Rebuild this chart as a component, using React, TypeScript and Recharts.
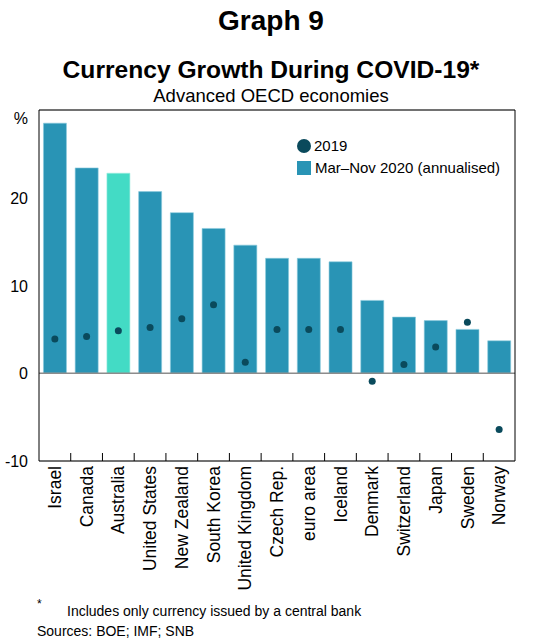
import { ComposedChart, Bar, Scatter, XAxis, YAxis, CartesianGrid, ReferenceLine, Cell } from 'recharts';

const countries = [
  'Israel', 'Canada', 'Australia', 'United States', 'New Zealand', 'South Korea', 'United Kingdom',
  'Czech Rep.', 'euro area', 'Iceland', 'Denmark', 'Switzerland', 'Japan', 'Sweden', 'Norway',
];
const growth2020 = [28.5, 23.4, 22.8, 20.7, 18.3, 16.5, 14.6, 13.1, 13.1, 12.7, 8.3, 6.4, 6.0, 5.0, 3.7];
const growth2019 = [3.9, 4.2, 4.85, 5.2, 6.2, 7.8, 1.25, 5.0, 5.0, 5.0, -0.9, 1.0, 3.0, 5.8, -6.4];
const yTicks = [-10, 0, 10, 20, 30];

const data = countries.map((c, i) => ({ name: c, y2020: growth2020[i], y2019: growth2019[i] }));

const FONT = '"Liberation Sans", Arial, sans-serif';
const W = 542;
const H = 638;
const TOP = 110;
const LEFT_W = 39;
const RIGHT_W = 27;
const XAXIS_H = 177;
const AXIS_Y = H - XAXIS_H;
const BAND = (W - LEFT_W - RIGHT_W) / countries.length;

const BAR = '#2994b5';
const HIGHLIGHT = '#43dbc5';
const DOT = '#0a4a5c';

if (typeof document !== 'undefined') document.body.style.margin = '0';

function YTick({ x, y, payload, side }: any) {
  const label = payload.value === 30 ? '%' : String(payload.value);
  const dy = payload.value === 30 ? 14 : 6;
  return (
    <text
      x={side === 'left' ? x - 3 : x + 3}
      y={y + dy}
      textAnchor={side === 'left' ? 'end' : 'start'}
      fontSize={16}
      fontFamily={FONT}
      fill="#000"
    >
      {label}
    </text>
  );
}

function XTick({ x, payload, index }: any) {
  return (
    <g>
      {index < countries.length - 1 && (
        <line x1={x + BAND / 2} x2={x + BAND / 2} y1={AXIS_Y} y2={AXIS_Y - 8} stroke="#000" strokeWidth={1} />
      )}
      <g transform={`translate(${x},${AXIS_Y})`}>
        <text transform="rotate(-90)" x={-5} y={0} dy="0.35em" textAnchor="end" fontSize={17.5} fontFamily={FONT} fill="#000">
          {payload.value}
        </text>
      </g>
    </g>
  );
}

export default function App() {
  return (
    <div style={{ position: 'relative', width: W, height: H, fontFamily: FONT, background: '#fff' }}>
      <div style={{ position: 'absolute', top: 5, width: W, textAlign: 'center', fontSize: 28, fontWeight: 'bold' }}>
        Graph 9
      </div>
      <div style={{ position: 'absolute', top: 56, width: W, textAlign: 'center', fontSize: 24.6, fontWeight: 'bold' }}>
        Currency Growth During COVID-19*
      </div>
      <div style={{ position: 'absolute', top: 85, width: W, textAlign: 'center', fontSize: 18.5 }}>
        Advanced OECD economies
      </div>

      <ComposedChart width={W} height={H} data={data} margin={{ top: TOP, right: 0, left: 0, bottom: 0 }} barCategoryGap="14%">
        <CartesianGrid vertical={false} stroke="#c8c8c8" />
        <XAxis
          dataKey="name"
          height={XAXIS_H}
          interval={0}
          tickLine={false}
          tickSize={0}
          stroke="#000"
          tick={<XTick />}
        />
        <YAxis
          yAxisId="left"
          domain={[-10, 30]}
          ticks={yTicks}
          width={LEFT_W}
          tickLine={false}
          stroke="#000"
          tick={<YTick side="left" />}
        />
        <YAxis
          yAxisId="right"
          orientation="right"
          domain={[-10, 30]}
          ticks={yTicks}
          width={RIGHT_W}
          tickLine={false}
          stroke="#000"
          tick={<YTick side="right" />}
        />
        <ReferenceLine yAxisId="left" y={0} stroke="#8c8c8c" strokeWidth={1.5} />
        <ReferenceLine yAxisId="left" y={30} stroke="#000" strokeWidth={1} />
        <Bar yAxisId="left" dataKey="y2020" isAnimationActive={false} stroke="#8ccbdd" strokeWidth={0.6}>
          {data.map((d, i) => (
            <Cell key={i} fill={d.name === 'Australia' ? HIGHLIGHT : BAR} stroke={d.name === 'Australia' ? '#9fede0' : '#8ccbdd'} />
          ))}
        </Bar>
        <Scatter
          yAxisId="left"
          dataKey="y2019"
          isAnimationActive={false}
          fill={DOT}
          shape={(p: any) => <circle cx={p.cx} cy={p.cy} r={3.5} fill={DOT} />}
        />
      </ComposedChart>

      <div style={{ position: 'absolute', left: 297, top: 137, fontSize: 15, lineHeight: '17px' }}>
        <div style={{ display: 'flex', alignItems: 'center', gap: 3 }}>
          <span style={{ width: 14, height: 14, borderRadius: 7, background: DOT, display: 'inline-block' }} />
          <span>2019</span>
        </div>
        <div style={{ display: 'flex', alignItems: 'center', gap: 4, marginTop: 5 }}>
          <span style={{ width: 14, height: 14, background: BAR, display: 'inline-block' }} />
          <span>Mar–Nov 2020 (annualised)</span>
        </div>
      </div>

      <div style={{ position: 'absolute', left: 37, top: 597, fontSize: 12 }}>*</div>
      <div style={{ position: 'absolute', left: 67, top: 603, fontSize: 14 }}>
        Includes only currency issued by a central bank
      </div>
      <div style={{ position: 'absolute', left: 37, top: 623, fontSize: 14 }}>Sources: BOE; IMF; SNB</div>
    </div>
  );
}
